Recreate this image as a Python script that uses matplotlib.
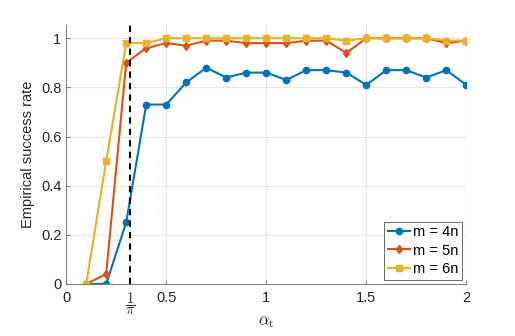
import numpy as np
import matplotlib.pyplot as plt

plt.rcParams['font.family'] = ['Liberation Sans', 'DejaVu Sans']
plt.rcParams['mathtext.fontset'] = 'cm'

# データ
alpha = [0.1, 0.2, 0.3, 0.4, 0.5, 0.6, 0.7, 0.8, 0.9, 1.0,
         1.1, 1.2, 1.3, 1.4, 1.5, 1.6, 1.7, 1.8, 1.9, 2.0]
rate_4n = [0, 0, 0.25, 0.73, 0.73, 0.82, 0.88, 0.84, 0.86, 0.86,
           0.83, 0.87, 0.87, 0.86, 0.81, 0.87, 0.87, 0.84, 0.87, 0.81]
rate_5n = [0, 0.04, 0.90, 0.96, 0.98, 0.97, 0.99, 0.99, 0.98, 0.98,
           0.98, 0.99, 0.99, 0.94, 1.0, 1.0, 1.0, 1.0, 0.98, 0.99]
rate_6n = [0, 0.5, 0.98, 0.98, 1.0, 1.0, 1.0, 1.0, 1.0, 1.0,
           1.0, 1.0, 1.0, 0.99, 1.0, 1.0, 1.0, 1.0, 0.99, 0.99]
xticks = [0, 1 / np.pi, 0.5, 1, 1.5, 2]
xtick_labels = ['0', r'$\dfrac{1}{\pi}$', '0.5', '1', '1.5', '2']
yticks = [0, 0.2, 0.4, 0.6, 0.8, 1]

fig = plt.figure(figsize=(5.15, 3.36), dpi=100)
ax = fig.add_axes([0.1285, 0.155, 0.777, 0.77])

ax.plot(alpha, rate_4n, '-o', color='#0072BD', lw=1.5, ms=4.5, label='m = 4n')
ax.plot(alpha, rate_5n, '-d', color='#D95319', lw=1.5, ms=4.5, label='m = 5n')
ax.plot(alpha, rate_6n, '-s', color='#EDB120', lw=1.5, ms=4, label='m = 6n')
ax.axvline(1 / np.pi, color='black', ls='--', lw=1.5, dashes=(3, 2.5))

ax.set_xlim(0, 2)
ax.set_ylim(0, 1.053)
ax.set_xticks(xticks)
ax.set_xticklabels(xtick_labels)
ax.set_yticks(yticks)
ax.set_yticklabels(['0', '0.2', '0.4', '0.6', '0.8', '1'])
ax.grid(True, color='#e6e6e6', lw=0.8)
ax.set_axisbelow(True)
for s in ['top', 'right']:
    ax.spines[s].set_visible(False)
for s in ['left', 'bottom']:
    ax.spines[s].set_color('#808080')
ax.tick_params(direction='in', length=3, color='#808080', labelsize=10.5, labelcolor='#262626')
ax.tick_params(axis='x', pad=5)
ax.set_xlabel(r'$\alpha_{\mathrm{t}}$', fontsize=12, color='#262626', labelpad=-2)
ax.set_ylabel('Empirical success rate', fontsize=10.5, color='#262626')

leg = ax.legend(loc='lower right', fontsize=10.5, fancybox=False, edgecolor='#555555',
                framealpha=1, handlelength=1.5, handletextpad=0.2, borderpad=0.25,
                labelspacing=0.3, borderaxespad=0.3)
leg.get_frame().set_linewidth(0.6)

fig.savefig('out.png')
